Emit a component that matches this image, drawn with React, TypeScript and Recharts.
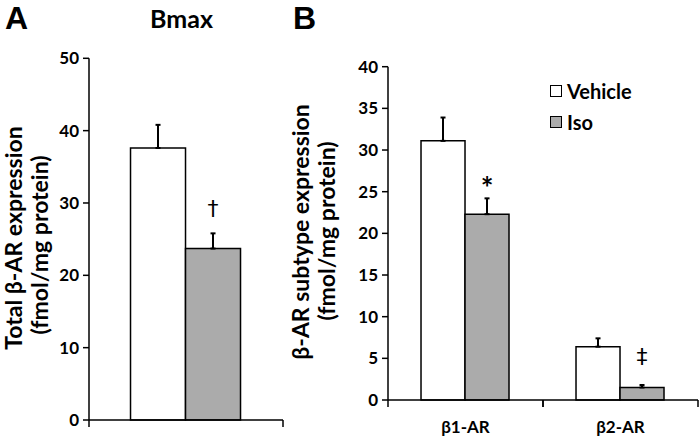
import React from 'react';
import { BarChart, Bar, XAxis, YAxis, ErrorBar, LabelList, Legend } from 'recharts';

// ---------- data ----------
const seriesNames = ['Vehicle', 'Iso'];

// Panel A: total β-AR (Bmax)
const totalCategories = ['Bmax'];
const totalVehicle = [37.6];
const totalVehicleErr = [3.2];
const totalIso = [23.7];
const totalIsoErr = [2.1];
const totalMarks = ['†'];
const totalTicks = [0, 10, 20, 30, 40, 50];

// Panel B: β-AR subtypes
const subtypeCategories = ['β1-AR', 'β2-AR'];
const subtypeVehicle = [31.1, 6.4];
const subtypeVehicleErr = [2.8, 1.0];
const subtypeIso = [22.3, 1.5];
const subtypeIsoErr = [1.9, 0.3];
const subtypeMarks = ['*', '‡'];
const subtypeTicks = [0, 5, 10, 15, 20, 25, 30, 35, 40];

// ---------- styles ----------
const FONT = 'Lato, "Open Sans", "DejaVu Sans", sans-serif';
const VEHICLE_FILL = '#ffffff';
const ISO_FILL = '#ababab';
const STROKE = '#000000';

const MARK_STYLE: Record<string, { size: number; gap: number; family: string; weight: number }> = {
  '†': { size: 22, gap: 17, family: '"DejaVu Sans", sans-serif', weight: 400 },
  '*': { size: 30, gap: -1, family: FONT, weight: 700 },
  '‡': { size: 22, gap: 21, family: '"DejaVu Sans", sans-serif', weight: 400 },
};

type Row = {
  name: string;
  vehicle: number;
  vehicleErr: [number, number];
  iso: number;
  isoErr: [number, number];
  mark: string;
};

function buildRows(
  categories: string[],
  vehicle: number[],
  vehicleErr: number[],
  iso: number[],
  isoErr: number[],
  marks: string[]
): Row[] {
  return categories.map((name, i) => ({
    name,
    vehicle: vehicle[i],
    vehicleErr: [0, vehicleErr[i]],
    iso: iso[i],
    isoErr: [0, isoErr[i]],
    mark: marks[i],
  }));
}

const totalRows = buildRows(totalCategories, totalVehicle, totalVehicleErr, totalIso, totalIsoErr, totalMarks);
const subtypeRows = buildRows(subtypeCategories, subtypeVehicle, subtypeVehicleErr, subtypeIso, subtypeIsoErr, subtypeMarks);

const TICK_STYLE = { fontFamily: FONT, fontWeight: 700, fontSize: 17, fill: '#000' };

const makeMarkLabel = (rows: Row[]) => (props: any) => {
  const { x, y, width, height, index } = props;
  const row = rows[index];
  if (!row) return null;
  const pxPerUnit = Number(height) / row.iso;
  const errTop = Number(y) - row.isoErr[1] * pxPerUnit;
  const st = MARK_STYLE[row.mark];
  return (
    <text
      x={Number(x) + Number(width) / 2}
      y={errTop - st.gap}
      textAnchor="middle"
      fontSize={st.size}
      fontFamily={st.family}
      fontWeight={st.weight}
      fill="#000"
    >
      {row.mark}
    </text>
  );
};

const makeBandTick = (showLabel: boolean, tickLen: number) => (props: any) => {
  const { x, y, payload } = props;
  const half = payload && typeof payload.offset === 'number' ? payload.offset : 0;
  const axisY = y - tickLen;
  return (
    <g>
      <line x1={x - half} x2={x - half} y1={axisY} y2={axisY + tickLen} stroke={STROKE} strokeWidth={1.5} />
      <line x1={x + half} x2={x + half} y1={axisY} y2={axisY + tickLen} stroke={STROKE} strokeWidth={1.5} />
      {showLabel ? (
        <text x={x} y={axisY + 33} textAnchor="middle" {...TICK_STYLE}>
          {payload.value}
        </text>
      ) : null}
    </g>
  );
};

const makeYLabel = (lines: { text: string; x: number; cy: number }[]) => () => (
  <g>
    {lines.map((l, i) => (
      <text
        key={i}
        x={l.x}
        y={l.cy}
        transform={`rotate(-90, ${l.x}, ${l.cy})`}
        textAnchor="middle"
        fontFamily={FONT}
        fontWeight={700}
        fontSize={23}
        fill="#000"
      >
        {l.text}
      </text>
    ))}
  </g>
);

const renderLegend = (props: any) => {
  const payload = [...(props.payload || [])].sort(
    (a: any, b: any) => seriesNames.indexOf(a.value) - seriesNames.indexOf(b.value)
  );
  return (
    <div style={{ fontFamily: FONT, fontWeight: 700, fontSize: 20, color: '#000' }}>
      {payload.map((entry: any, i: number) => (
        <div key={i} style={{ display: 'flex', alignItems: 'center', height: 31 }}>
          <span
            style={{
              display: 'inline-block',
              width: 10,
              height: 10,
              border: '1.5px solid #000',
              background: entry.value === seriesNames[0] ? VEHICLE_FILL : ISO_FILL,
              marginRight: 5,
            }}
          />
          <span style={{ lineHeight: '20px' }}>{entry.value}</span>
        </div>
      ))}
    </div>
  );
};

const X_TICK_LEN = 7;

export default function App() {
  return (
    <div style={{ position: 'absolute', left: 0, top: 0, width: 700, height: 438, background: '#fff', overflow: 'hidden' }}>
      <svg width={700} height={438} style={{ position: 'absolute', left: 0, top: 0 }}>
        <text x={5} y={29} fontFamily='"Liberation Sans", Arial, sans-serif' fontWeight={700} fontSize={32} fill="#000">
          A
        </text>
        <text x={293} y={29} fontFamily='"Liberation Sans", Arial, sans-serif' fontWeight={700} fontSize={32} fill="#000">
          B
        </text>
        <text x={181.5} y={28} textAnchor="middle" fontFamily={FONT} fontWeight={700} fontSize={25} fill="#000">
          Bmax
        </text>
      </svg>

      {/* Panel A */}
      <div style={{ position: 'absolute', left: 0, top: 0 }}>
        <BarChart
          width={300}
          height={438}
          data={totalRows}
          margin={{ top: 58.3, right: 17, bottom: 0, left: 0 }}
          barCategoryGap="21.4%"
          barGap={0}
        >
          <XAxis
            dataKey="name"
            height={18}
            axisLine={{ stroke: STROKE, strokeWidth: 1.5 }}
            tickLine={false}
            tickSize={X_TICK_LEN}
            tickMargin={0}
            interval={0}
            tick={makeBandTick(false, X_TICK_LEN)}
          />
          <YAxis
            width={89}
            domain={[0, 50]}
            ticks={totalTicks}
            interval={0}
            axisLine={{ stroke: STROKE, strokeWidth: 1.5 }}
            tickLine={{ stroke: STROKE, strokeWidth: 1.5 }}
            tickSize={6}
            tickMargin={4}
            tick={TICK_STYLE}
            label={{
              content: makeYLabel([
                { text: 'Total β-AR expression', x: 21.5, cy: 238 },
                { text: '(fmol/mg protein)', x: 48, cy: 245 },
              ]),
            }}
          />
          <Bar dataKey="vehicle" name={seriesNames[0]} fill={VEHICLE_FILL} stroke={STROKE} strokeWidth={1.5} isAnimationActive={false}>
            <ErrorBar dataKey="vehicleErr" width={2.5} stroke={STROKE} strokeWidth={2} direction="y" />
          </Bar>
          <Bar dataKey="iso" name={seriesNames[1]} fill={ISO_FILL} stroke={STROKE} strokeWidth={1.5} isAnimationActive={false}>
            <ErrorBar dataKey="isoErr" width={2.5} stroke={STROKE} strokeWidth={2} direction="y" />
            <LabelList dataKey="mark" content={makeMarkLabel(totalRows)} />
          </Bar>
        </BarChart>
      </div>

      {/* Panel B */}
      <div style={{ position: 'absolute', left: 280, top: 0 }}>
        <BarChart
          width={420}
          height={438}
          data={subtypeRows}
          margin={{ top: 66.7, right: 2, bottom: 0, left: 0 }}
          barCategoryGap="21.3%"
          barGap={0}
        >
          <XAxis
            dataKey="name"
            height={38}
            axisLine={{ stroke: STROKE, strokeWidth: 1.5 }}
            tickLine={false}
            tickSize={X_TICK_LEN}
            tickMargin={0}
            interval={0}
            tick={makeBandTick(true, X_TICK_LEN)}
          />
          <YAxis
            width={108}
            domain={[0, 40]}
            ticks={subtypeTicks}
            interval={0}
            axisLine={{ stroke: STROKE, strokeWidth: 1.5 }}
            tickLine={{ stroke: STROKE, strokeWidth: 1.5 }}
            tickSize={6}
            tickMargin={4}
            tick={TICK_STYLE}
            label={{
              content: makeYLabel([
                { text: 'β-AR subtype expression', x: 29, cy: 232 },
                { text: '(fmol/mg protein)', x: 55, cy: 231 },
              ]),
            }}
          />
          <Legend
            layout="vertical"
            align="center"
            verticalAlign="middle"
            content={renderLegend}
            wrapperStyle={{ left: 270, top: 75, width: 130, height: 62 }}
          />
          <Bar dataKey="vehicle" name={seriesNames[0]} fill={VEHICLE_FILL} stroke={STROKE} strokeWidth={1.5} isAnimationActive={false}>
            <ErrorBar dataKey="vehicleErr" width={2.5} stroke={STROKE} strokeWidth={2} direction="y" />
          </Bar>
          <Bar dataKey="iso" name={seriesNames[1]} fill={ISO_FILL} stroke={STROKE} strokeWidth={1.5} isAnimationActive={false}>
            <ErrorBar dataKey="isoErr" width={2.5} stroke={STROKE} strokeWidth={2} direction="y" />
            <LabelList dataKey="mark" content={makeMarkLabel(subtypeRows)} />
          </Bar>
        </BarChart>
      </div>
    </div>
  );
}
